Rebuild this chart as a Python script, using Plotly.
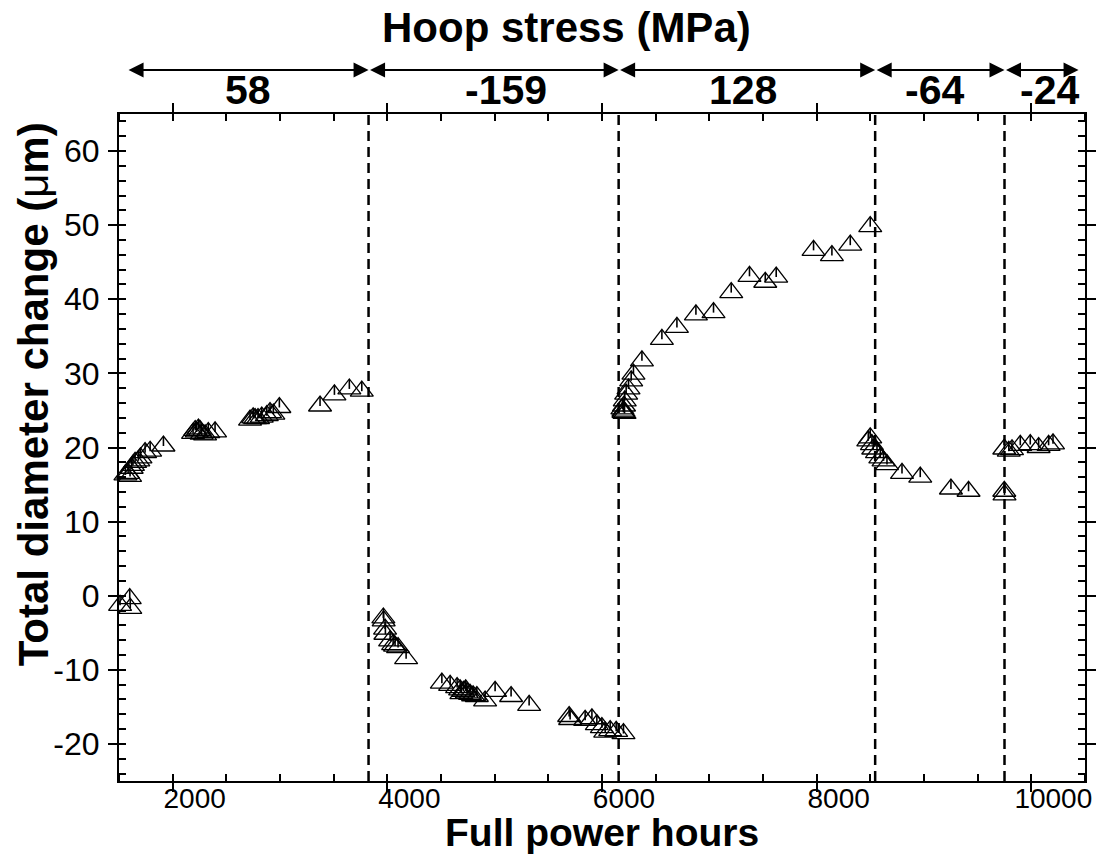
import plotly.graph_objects as go

# Full power hours and total diameter change (µm) for each stress period
hours_58 = [1510, 1600, 1605, 1560, 1585, 1603, 1618, 1630, 1650, 1680, 1700, 1743, 1790, 1914,
            2190, 2210, 2224, 2240, 2255, 2270, 2302, 2332, 2395,
            2721, 2750, 2768, 2795, 2830, 2877, 2907, 2938, 2994,
            3373, 3507, 3646, 3762]
change_58 = [-1.3, -0.4, -1.7, 16.3, 16.5, 16.1, 17.2, 17.6, 18.0, 18.2, 18.6, 19.3, 19.5, 20.2,
             21.9, 22.3, 22.1, 22.5, 22.3, 21.8, 21.7, 22.0, 22.1,
             23.7, 24.0, 23.9, 23.9, 24.1, 24.3, 24.7, 24.5, 25.4,
             25.6, 27.1, 27.9, 27.6]

hours_m159 = [3963, 3966, 3979, 3982, 4026, 4054, 4072, 4100, 4175,
              4508, 4585, 4650, 4678, 4690, 4709, 4730, 4741, 4771, 4799, 4834, 4911, 5004, 5153, 5321,
              5694, 5703, 5843, 5906, 5952, 5999, 6030, 6076, 6132, 6200]
change_m159 = [-3.0, -3.4, -4.5, -5.2, -6.1, -6.6, -6.8, -7.0, -8.5,
               -11.8, -12.1, -12.4, -12.7, -13.2, -12.9, -12.7, -13.1, -13.3, -13.5, -13.6, -14.2, -12.9, -13.6, -14.8,
               -16.3, -16.7, -16.8, -16.6, -17.4, -17.8, -18.4, -18.2, -18.3, -18.6]

hours_128 = [6190, 6200, 6200, 6205, 6210, 6212, 6225, 6247, 6272, 6293, 6372,
             6558, 6698, 6875, 7039, 7204, 7374, 7521, 7623, 7971, 8142, 8313, 8499]
change_128 = [25.2, 24.75, 24.9, 25.6, 24.6, 26.3, 27.2, 27.9, 29.0, 29.9, 31.7,
              34.6, 36.2, 37.9, 38.2, 40.9, 43.1, 42.3, 43.0, 46.6, 45.9, 47.3, 49.8]

hours_m64 = [8481, 8499, 8515, 8527, 8562, 8593, 8623, 8655, 8795, 8965, 9251, 9415, 9748, 9750]
change_m64 = [20.9, 21.3, 20.4, 19.8, 19.3, 18.6, 18.2, 17.7, 16.5, 16.0, 14.4, 14.1, 14.1, 13.6]

hours_m24 = [9748, 9790, 9820, 9897, 9990, 10068, 10161, 10202]
change_m24 = [19.8, 19.5, 19.7, 20.3, 20.4, 20.0, 20.3, 20.5]

# Hoop stress periods: boundaries (hours) and stress labels (MPa)
period_edges = [1575, 3825, 6155, 8545, 9750, 10440]
stress_labels = ["58", "-159", "128", "-64", "-24"]
label_nudge_px = [0, 12, -4, -5, 8]

x_ticks = [2000, 4000, 6000, 8000, 10000]
y_ticks = [-20, -10, 0, 10, 20, 30, 40, 50, 60]

hours = hours_58 + hours_m159 + hours_128 + hours_m64 + hours_m24
change = change_58 + change_m159 + change_128 + change_m64 + change_m24

fig = go.Figure()
fig.add_trace(go.Scatter(
    x=hours, y=change, mode="markers", cliponaxis=False, showlegend=False,
    marker=dict(symbol="triangle-up-open", size=20, color="black", line=dict(width=1.3, color="black")),
    error_y=dict(type="constant", value=1.25, valueminus=0, symmetric=False,
                 width=0, thickness=1.6, color="black"),
))

# crossing major ticks: a second overlaid axis draws the inside half
fig.add_trace(go.Scatter(x=[None], y=[None], xaxis="x2", yaxis="y2", showlegend=False))

font = "Liberation Sans, Arial, sans-serif"
axis_common = dict(showline=True, linewidth=2, linecolor="black", mirror="allticks",
                   ticks="outside", ticklen=9, tickwidth=2, tickcolor="black",
                   showgrid=False, zeroline=False)

fig.update_layout(
    width=1108, height=857,
    margin=dict(l=119, r=21, t=114, b=76),
    paper_bgcolor="white", plot_bgcolor="white",
    font=dict(family=font, color="black"),
    xaxis=dict(range=[1500, 10500], tickvals=x_ticks, ticktext=[str(v) for v in x_ticks],
               tickfont=dict(size=28), ticklabelshift=22, ticklabelstandoff=-18,
               minor=dict(dtick=500, tick0=0, ticks="inside", ticklen=7,
                          tickwidth=2, tickcolor="black"),
               **axis_common),
    yaxis=dict(range=[-25, 65], tickvals=y_ticks, ticktext=[str(v) for v in y_ticks],
               tickfont=dict(size=32), ticklabelstandoff=2,
               minor=dict(dtick=2, tick0=0, ticks="inside", ticklen=7,
                          tickwidth=2, tickcolor="black"),
               **axis_common),
    xaxis2=dict(overlaying="x", matches="x", range=[1500, 10500], tickvals=x_ticks,
                ticks="inside", ticklen=7, tickwidth=2, tickcolor="black", mirror="ticks",
                showticklabels=False, showline=False, showgrid=False, zeroline=False),
    yaxis2=dict(overlaying="y", matches="y", range=[-25, 65], tickvals=y_ticks,
                ticks="inside", ticklen=7, tickwidth=2, tickcolor="black", mirror="ticks",
                showticklabels=False, showline=False, showgrid=False, zeroline=False),
)

# dashed lines where the hoop stress changes
for edge in period_edges[1:-1]:
    fig.add_shape(type="line", xref="x", yref="paper", x0=edge, x1=edge, y0=0, y1=1,
                  line=dict(color="black", width=2.5, dash="10px,6px"))

# double-headed arrows and stress values above the plot
for i, label in enumerate(stress_labels):
    left, right = period_edges[i], period_edges[i + 1]
    fig.add_annotation(x=right, y=1.066, xref="x", yref="paper",
                       ax=left, ay=0, axref="x", ayref="pixel", text="",
                       showarrow=True, arrowside="end+start",
                       arrowhead=2, startarrowhead=2, arrowsize=1.5, startarrowsize=1.5,
                       arrowwidth=2, arrowcolor="black", standoff=0, startstandoff=0)
    fig.add_annotation(x=(left + right) / 2, y=1.036, xref="x", yref="paper",
                       text="<b>%s</b>" % label, showarrow=False, yanchor="middle",
                       xshift=label_nudge_px[i], font=dict(size=41, family=font))

fig.add_annotation(x=(567 - 119) / 968, y=1.13, xref="paper", yref="paper",
                   text="<b>Hoop stress (MPa)</b>", showarrow=False, yanchor="middle",
                   font=dict(size=42, family=font))
fig.add_annotation(x=0.5, y=0, xref="paper", yref="paper", yshift=-75,
                   text="<b>Full power hours</b>", showarrow=False, yanchor="bottom",
                   font=dict(size=39, family=font))
fig.add_annotation(x=-0.089, y=0.58, xref="paper", yref="paper", textangle=-90,
                   text="<b>Total diameter change (</b>μ<b>m)</b>", showarrow=False,
                   xanchor="center", yanchor="middle", font=dict(size=42, family=font))

fig.write_html("out.html")
